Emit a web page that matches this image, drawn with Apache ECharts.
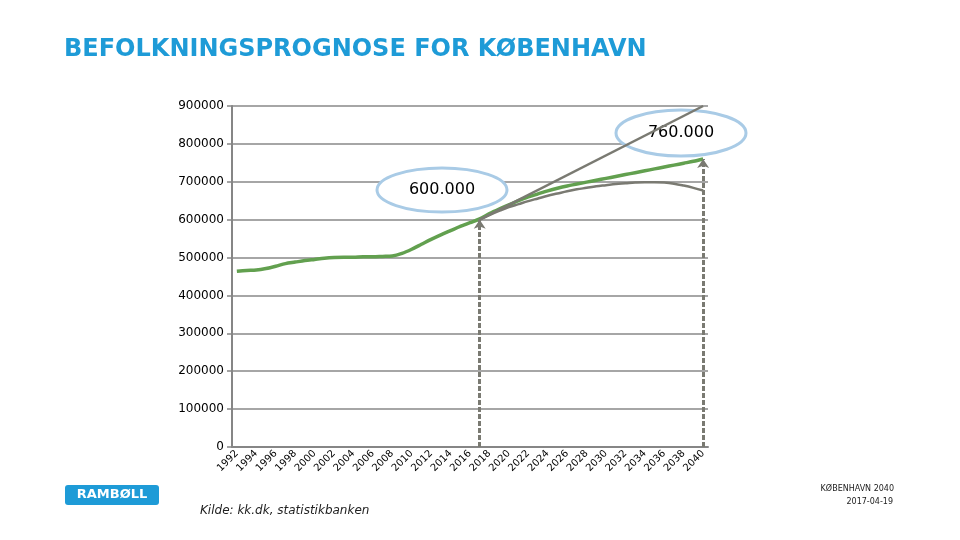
<!DOCTYPE html>
<html><head><meta charset="utf-8">
<script src="https://cdn.jsdelivr.net/npm/echarts@6/dist/echarts.min.js"></script>
<style>html,body{margin:0;padding:0;background:#fff}#c{width:960px;height:540px}</style>
</head><body><div id="c"></div>
<script>
const years = ['1992','1993','1994','1995','1996','1997','1998','1999','2000','2001','2002','2003','2004','2005','2006','2007','2008','2009','2010','2011','2012','2013','2014','2015','2016','2017','2018','2019','2020','2021','2022','2023','2024','2025','2026','2027','2028','2029','2030','2031','2032','2033','2034','2035','2036','2037','2038','2039','2040'];
const population = [464000,466000,467000,471000,477000,484000,488000,492000,495000,498000,500000,501000,501000,502000,502000,503000,504000,511000,522000,535000,548000,560000,571000,582000,592000,602000,616000,628000,639000,650000,660000,668000,676000,683000,689000,694000,699000,704000,709000,714000,719000,724000,729000,734000,739000,744000,749000,754000,760000];
const lowScenario = [null,null,null,null,null,null,null,null,null,null,null,null,null,null,null,null,null,null,null,null,null,null,null,null,null,600000,612000,623000,633000,641000,649000,656000,663000,669000,675000,680000,684000,688000,691000,694000,696000,698000,699000,699000,698000,695000,690000,684000,677000];
const highScenario = [null,null,null,null,null,null,null,null,null,null,null,null,null,null,null,null,null,null,null,null,null,null,null,null,null,600000,null,null,null,null,null,null,null,null,null,null,null,null,null,null,null,null,null,null,null,null,null,null,900000];
const yTicks = [0,100000,200000,300000,400000,500000,600000,700000,800000,900000];
const startYear = '2017', endYear = '2040';
const startValue = 600000, endValue = 760000;
const startLabel = '600.000', endLabel = '760.000';

const gray = '#7a7a72', green = '#62a04f', blue = '#1e9bd7', ring = '#a9cbe6';
const chart = echarts.init(document.getElementById('c'), null, {renderer:'canvas'});
chart.setOption({
  animation:false,
  grid:{left:232,right:252,top:106,bottom:93},
  xAxis:{type:'category',data:years,boundaryGap:true,
    axisLine:{lineStyle:{color:'#868686',width:2}},
    axisTick:{interval:0,length:4,lineStyle:{color:'#868686',width:1.5}},
    axisLabel:{interval:1,rotate:45,fontSize:10,color:'#000',fontFamily:'DejaVu Sans',margin:5}},
  yAxis:{type:'value',min:yTicks[0],max:yTicks[yTicks.length-1],interval:100000,
    axisLine:{show:true,lineStyle:{color:'#868686',width:2}},
    axisTick:{show:true,length:5,lineStyle:{color:'#868686',width:1.5}},
    splitLine:{lineStyle:{color:'#888',width:1.5}},
    axisLabel:{fontSize:12,color:'#000',fontFamily:'DejaVu Sans',margin:8,formatter:v=>String(v)}},
  series:[
    {type:'line',data:population,smooth:0.3,symbol:'none',z:3,lineStyle:{color:green,width:3.5},
     markLine:{silent:true,symbol:['none','arrow'],symbolSize:[9,9],label:{show:false},
       lineStyle:{color:gray,type:[5,2],width:3},
       data:[[{coord:[startYear,0]},{coord:[startYear,startValue]}],[{coord:[endYear,0]},{coord:[endYear,endValue]}]]}},
    {type:'line',data:lowScenario,smooth:0.4,symbol:'none',z:4,lineStyle:{color:gray,width:2.5}},
    {type:'line',data:highScenario,connectNulls:true,symbol:'none',z:4,lineStyle:{color:gray,width:2.5}}
  ],
  graphic:[
    {type:'text',left:64,top:38,z:5,style:{text:'BEFOLKNINGSPROGNOSE FOR KØBENHAVN',font:'bold 24px "DejaVu Sans"',fill:blue}},
    {type:'ellipse',z:1,shape:{cx:442,cy:190,rx:65,ry:22},style:{fill:'#fff',stroke:ring,lineWidth:3}},
    {type:'text',z:1,x:442,y:190,style:{text:startLabel,font:'16px "DejaVu Sans"',fill:'#000',align:'center',verticalAlign:'middle'}},
    {type:'ellipse',z:1,shape:{cx:681,cy:133,rx:65,ry:23},style:{fill:'#fff',stroke:ring,lineWidth:3}},
    {type:'text',z:1,x:681,y:133,style:{text:endLabel,font:'16px "DejaVu Sans"',fill:'#000',align:'center',verticalAlign:'middle'}},
    {type:'rect',z:5,shape:{x:65,y:485,width:94,height:20,r:3},style:{fill:blue}},
    {type:'text',z:6,x:112,y:495,style:{text:'RAMBØLL',font:'bold 13px "DejaVu Sans"',fill:'#fff',align:'center',verticalAlign:'middle'}},
    {type:'text',z:5,x:200,y:511,style:{text:'Kilde: kk.dk, statistikbanken',font:'italic 12px "DejaVu Sans"',fill:'#222',verticalAlign:'middle'}},
    {type:'text',z:5,x:894,y:489,style:{text:'KØBENHAVN 2040',font:'8px "DejaVu Sans"',fill:'#222',align:'right',verticalAlign:'middle'}},
    {type:'text',z:5,x:893,y:502,style:{text:'2017-04-19',font:'8px "DejaVu Sans"',fill:'#222',align:'right',verticalAlign:'middle'}}
  ]
});
</script></body></html>
